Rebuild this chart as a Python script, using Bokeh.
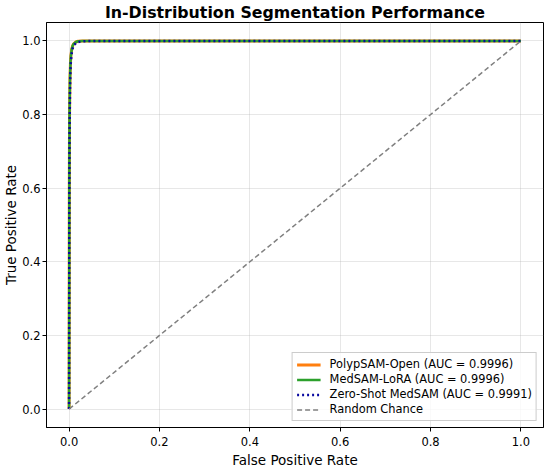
from bokeh.plotting import figure
from bokeh.embed import file_html
from bokeh.resources import INLINE
from bokeh.models import Range1d, FixedTicker, Legend, LegendItem, CustomJSTickFormatter

# ROC data
fpr_polyp = [0.0, 0.0005, 0.001, 0.002, 0.003, 0.004, 0.006, 0.008, 0.01, 0.015, 0.02, 0.03, 0.05, 1.0]
tpr_polyp = [0.0, 0.60, 0.80, 0.90, 0.94, 0.96, 0.978, 0.987, 0.992, 0.997, 0.999, 0.9995, 1.0, 1.0]
fpr_lora = [0.0, 0.0005, 0.001, 0.002, 0.003, 0.004, 0.006, 0.008, 0.01, 0.015, 0.02, 0.03, 0.05, 1.0]
tpr_lora = [0.0, 0.60, 0.80, 0.90, 0.94, 0.96, 0.978, 0.987, 0.992, 0.997, 0.999, 0.9995, 1.0, 1.0]
fpr_zero = [0.0, 0.0005, 0.001, 0.002, 0.003, 0.004, 0.006, 0.008, 0.01, 0.015, 0.02, 0.03, 0.05, 1.0]
tpr_zero = [0.0, 0.55, 0.75, 0.87, 0.92, 0.945, 0.968, 0.98, 0.987, 0.994, 0.997, 0.999, 1.0, 1.0]
rand_x = [0.0, 1.0]
rand_y = [0.0, 1.0]
labels = ["PolypSAM-Open (AUC = 0.9996)", "MedSAM-LoRA (AUC = 0.9996)",
          "Zero-Shot MedSAM (AUC = 0.9991)", "Random Chance"]
title_text = "In-Distribution Segmentation Performance"
ticks = [0.0, 0.2, 0.4, 0.6, 0.8, 1.0]

FONT = "DejaVu Sans"

p = figure(width=546, height=470, output_backend="svg", toolbar_location=None,
           x_range=Range1d(-0.05, 1.05), y_range=Range1d(-0.05, 1.05),
           min_border_left=44, min_border_right=3, min_border_top=0, min_border_bottom=40,
           title=title_text)
p.title.text_font = FONT
p.title.text_font_size = "15.8px"
p.title.text_font_style = "bold"
p.title.text_color = "black"
p.title.align = "center"
p.title.standoff = 1

fmt = CustomJSTickFormatter(code="return tick.toFixed(1);")
for ax in (p.xaxis, p.yaxis):
    ax.ticker = FixedTicker(ticks=ticks)
    ax.formatter = fmt
    ax.major_label_text_font = FONT
    ax.major_label_text_font_size = "11.5px"
    ax.major_label_text_color = "black"
    ax.axis_label_text_font = FONT
    ax.axis_label_text_font_size = "13.5px"
    ax.axis_label_text_font_style = "normal"
    ax.axis_label_text_color = "black"
    ax.minor_tick_line_color = None
    ax.major_tick_in = 0
    ax.major_tick_out = 4
    ax.axis_line_color = "black"
    ax.major_tick_line_color = "black"
    ax.major_label_standoff = 2
    ax.axis_label_standoff = 0
p.xaxis.axis_label = "False Positive Rate"
p.yaxis.axis_label = "True Positive Rate"
p.xaxis.major_label_standoff = 5
p.xaxis.axis_label_standoff = 3

p.grid.grid_line_color = "#b0b0b0"
p.grid.grid_line_alpha = 0.3
p.outline_line_color = "black"
p.outline_line_alpha = 1

r1 = p.line(fpr_polyp, tpr_polyp, line_color="#ff7f0e", line_width=3)
r2 = p.line(fpr_lora, tpr_lora, line_color="#2ca02c", line_width=2.5)
r3 = p.line(fpr_zero, tpr_zero, line_color="#0a0aa0", line_width=2.5, line_dash="2 3")
r4 = p.line(rand_x, rand_y, line_color="gray", line_width=1.5, line_dash="5 3")

legend = Legend(items=[LegendItem(label=labels[0], renderers=[r1]),
                       LegendItem(label=labels[1], renderers=[r2]),
                       LegendItem(label=labels[2], renderers=[r3]),
                       LegendItem(label=labels[3], renderers=[r4])],
                location="bottom_right", label_text_font=FONT, label_text_font_size="11.4px",
                label_text_color="black",
                border_line_color="#cccccc", border_line_alpha=1, background_fill_alpha=0.8,
                label_height=13, glyph_height=13, glyph_width=24, spacing=1, padding=4,
                margin=6, label_standoff=9)
p.add_layout(legend)

open("out.html", "w").write(file_html(p, INLINE))
